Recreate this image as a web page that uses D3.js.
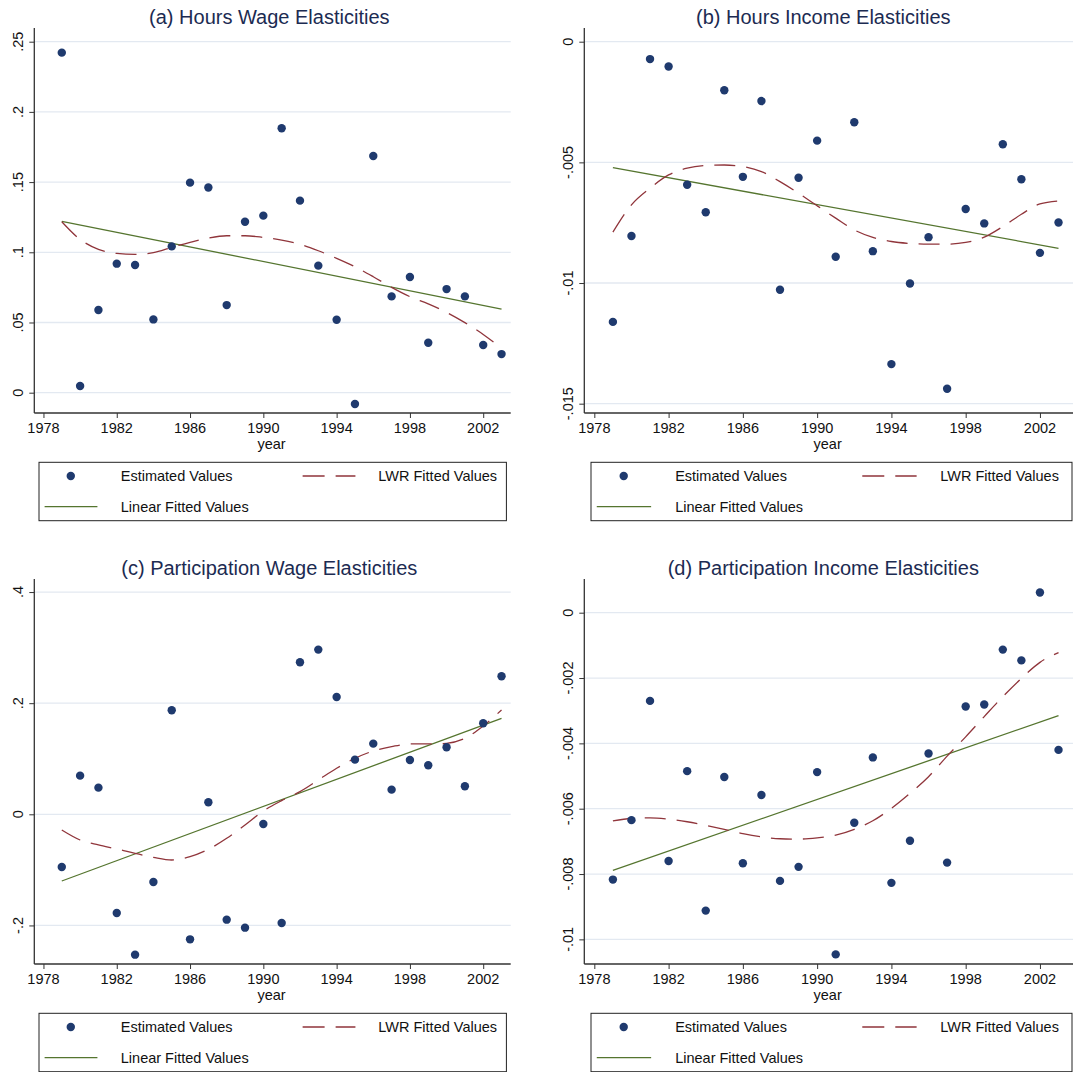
<!DOCTYPE html>
<html>
<head>
<meta charset="utf-8">
<script src="https://cdn.jsdelivr.net/npm/d3@7"></script>
<style>
	html, body { margin: 0; padding: 0; background: #fff; }
	svg { display: block; font-family: Arial, "Liberation Sans", Helvetica, sans-serif; }
</style>
</head>
<body>
<svg id="chart" width="1073" height="1072"></svg>
<script>
var years = [1979, 1980, 1981, 1982, 1983, 1984, 1985, 1986, 1987, 1988, 1989, 1990, 1991,
	1992, 1993, 1994, 1995, 1996, 1997, 1998, 1999, 2000, 2001, 2002, 2003];
var linYears = [1979, 2003];
var xTicks = [1978, 1982, 1986, 1990, 1994, 1998, 2002];

// (a) hours wage
var hwEst = [0.2422, 0.0048, 0.0589, 0.0919, 0.0909, 0.0522, 0.1042, 0.1496, 0.1462, 0.0624, 0.1218, 0.1261, 0.1883,
	0.1368, 0.0905, 0.0520, -0.0081, 0.1686, 0.0686, 0.0824, 0.0356, 0.0738, 0.0686, 0.0340, 0.0275];
var hwLwr = [0.1218, 0.1092, 0.1021, 0.0992, 0.0985, 0.0997, 0.1035, 0.1071, 0.1102, 0.1118, 0.1118, 0.1106, 0.1087,
	0.1057, 0.1011, 0.0957, 0.0897, 0.0826, 0.0750, 0.0684, 0.0632, 0.0572, 0.0499, 0.0415, 0.0316];
var hwLin = [0.1220, 0.0596];
var hwTicks = [0, 0.05, 0.1, 0.15, 0.2, 0.25];
var hwLabels = ["0", ".05", ".1", ".15", ".2", ".25"];

// (b) hours income
var hiEst = [-0.01161, -0.00805, -0.00072, -0.00103, -0.00593, -0.00707, -0.00201, -0.00560, -0.00246, -0.01028, -0.00564, -0.00410, -0.00891,
	-0.00334, -0.00868, -0.01336, -0.01002, -0.00810, -0.01438, -0.00693, -0.00753, -0.00425, -0.00570, -0.00875, -0.00749];
var hiLwr = [-0.00789, -0.00676, -0.00607, -0.00552, -0.00524, -0.00513, -0.00511, -0.00517, -0.00538, -0.00580, -0.00628, -0.00680, -0.00731,
	-0.00780, -0.00811, -0.00828, -0.00836, -0.00839, -0.00839, -0.00832, -0.00810, -0.00766, -0.00715, -0.00672, -0.00660];
var hiLin = [-0.00522, -0.00856];
var hiTicks = [0, -0.005, -0.01, -0.015];
var hiLabels = ["0", "-.005", "-.01", "-.015"];

// (c) participation wage
var pwEst = [-0.0948, 0.0696, 0.0480, -0.1776, -0.2526, -0.1218, 0.1872, -0.2250, 0.0216, -0.1896, -0.2040, -0.0174, -0.1956,
	0.2736, 0.2964, 0.2112, 0.0984, 0.1272, 0.0444, 0.0978, 0.0882, 0.1206, 0.0504, 0.1638, 0.2484];
var pwLwr = [-0.0282, -0.0462, -0.0552, -0.0624, -0.0702, -0.0774, -0.0822, -0.0762, -0.0630, -0.0432, -0.0192, 0.0060, 0.0246,
	0.0408, 0.0618, 0.0828, 0.1008, 0.1140, 0.1218, 0.1266, 0.1266, 0.1278, 0.1368, 0.1590, 0.1878];
var pwLin = [-0.1200, 0.1728];
var pwTicks = [-0.2, 0, 0.2, 0.4];
var pwLabels = ["-.2", "0", ".2", ".4"];

// (d) participation income
var piEst = [-0.00817, -0.00635, -0.00270, -0.00760, -0.00485, -0.00912, -0.00503, -0.00767, -0.00558, -0.00821, -0.00778, -0.00488, -0.01046,
	-0.00643, -0.00443, -0.00827, -0.00698, -0.00431, -0.00765, -0.00287, -0.00281, -0.00113, -0.00146, 0.00062, -0.00420];
var piLwr = [-0.00637, -0.00630, -0.00628, -0.00632, -0.00640, -0.00651, -0.00663, -0.00676, -0.00686, -0.00692, -0.00693, -0.00689, -0.00681,
	-0.00663, -0.00637, -0.00599, -0.00553, -0.00502, -0.00439, -0.00380, -0.00318, -0.00257, -0.00201, -0.00152, -0.00122];
var piLin = [-0.00789, -0.00315];
var piTicks = [0, -0.002, -0.004, -0.006, -0.008, -0.01];
var piLabels = ["0", "-.002", "-.004", "-.006", "-.008", "-.01"];

var titles = ["(a) Hours Wage Elasticities", "(b) Hours Income Elasticities",
	"(c) Participation Wage Elasticities", "(d) Participation Income Elasticities"];
var legendLabels = ["Estimated Values", "LWR Fitted Values", "Linear Fitted Values"];

var colors = {
	dot: "#1f3a6e",
	lwr: "#90353b",
	lin: "#55752f",
	grid: "#e3e9f1",
	axis: "#333",
	title: "#1c2b52",
	text: "#111"
};

var panels = [
	{ est: hwEst, lwr: hwLwr, lin: hwLin, ticks: hwTicks, labels: hwLabels, ox: 0, oy: 0,
		left: 34.3, right: 510.7, xdom: [1977.5, 2003.5], ydom: [-0.01446, 0.2569], tx: 269.3 },
	{ est: hiEst, lwr: hiLwr, lin: hiLin, ticks: hiTicks, labels: hiLabels, ox: 540, oy: 0,
		left: 44.3, right: 533, xdom: [1977.46, 2003.78], ydom: [-0.015386, 0.000402], tx: 283.3 },
	{ est: pwEst, lwr: pwLwr, lin: pwLin, ticks: pwTicks, labels: pwLabels, ox: 0, oy: 551,
		left: 34.3, right: 510.7, xdom: [1977.5, 2003.5], ydom: [-0.2694, 0.4163], tx: 269.3 },
	{ est: piEst, lwr: piLwr, lin: piLin, ticks: piTicks, labels: piLabels, ox: 540, oy: 551,
		left: 44.3, right: 533, xdom: [1977.46, 2003.78], ydom: [-0.010754, 0.000909], tx: 283.3 }
];

var plotTop = 32;
var plotBottom = 413;

var svg = d3.select("#chart");

function drawPanel(p, i) {
	var g = svg.append("g")
		.attr("transform", "translate(" + p.ox + "," + p.oy + ")");

	var x = d3.scaleLinear().domain(p.xdom).range([p.left, p.right]);
	var y = d3.scaleLinear().domain(p.ydom).range([plotBottom, plotTop]);

	g.append("clipPath")
		.attr("id", "clip" + i)
		.append("rect")
		.attr("x", p.left)
		.attr("y", plotTop)
		.attr("width", p.right - p.left)
		.attr("height", plotBottom - plotTop);

	// Title
	g.append("text")
		.attr("x", p.tx)
		.attr("y", 24)
		.attr("text-anchor", "middle")
		.style("font-size", "20px")
		.style("fill", colors.title)
		.text(titles[i]);

	// Gridlines
	g.append("g")
		.selectAll("line")
		.data(p.ticks)
		.enter()
		.append("line")
		.attr("x1", p.left)
		.attr("x2", p.right)
		.attr("y1", function(d) { return y(d); })
		.attr("y2", function(d) { return y(d); })
		.style("stroke", colors.grid)
		.style("stroke-width", 1.3);

	// Y axis
	var yAxis = g.append("g")
		.attr("transform", "translate(" + p.left + ",0)")
		.call(d3.axisLeft(y).tickValues(p.ticks).tickSize(5).tickFormat(""));
	yAxis.select(".domain").remove();
	yAxis.selectAll(".tick line").style("stroke", colors.axis);
	g.append("line")
		.attr("x1", p.left).attr("x2", p.left)
		.attr("y1", plotTop - 4).attr("y2", plotBottom)
		.style("stroke", colors.axis)
		.style("stroke-width", 1.3);

	g.append("g")
		.selectAll("text")
		.data(p.ticks)
		.enter()
		.append("text")
		.attr("transform", function(d) {
			return "translate(" + (p.left - 11) + "," + y(d) + ") rotate(-90)";
		})
		.attr("text-anchor", "middle")
		.style("font-size", "14.5px")
		.style("fill", colors.text)
		.text(function(d, j) { return p.labels[j]; });

	// X axis
	var xAxis = g.append("g")
		.attr("transform", "translate(0," + plotBottom + ")")
		.call(d3.axisBottom(x).tickValues(xTicks).tickSize(5).tickFormat(""));
	xAxis.select(".domain").remove();
	xAxis.selectAll(".tick line").style("stroke", colors.axis);
	g.append("line")
		.attr("x1", p.left).attr("x2", p.right)
		.attr("y1", plotBottom).attr("y2", plotBottom)
		.style("stroke", colors.axis)
		.style("stroke-width", 1.3);

	g.append("g")
		.selectAll("text")
		.data(xTicks)
		.enter()
		.append("text")
		.attr("x", function(d) { return x(d); })
		.attr("y", 433)
		.attr("text-anchor", "middle")
		.style("font-size", "14.5px")
		.style("fill", colors.text)
		.text(function(d) { return d; });

	g.append("text")
		.attr("x", (p.left + p.right) / 2 - 1)
		.attr("y", 449)
		.attr("text-anchor", "middle")
		.style("font-size", "14.5px")
		.style("fill", colors.text)
		.text("year");

	var marks = g.append("g").attr("clip-path", "url(#clip" + i + ")");

	// Linear fit
	marks.append("path")
		.datum(linYears.map(function(yr, j) { return [yr, p.lin[j]]; }))
		.attr("d", d3.line().x(function(d) { return x(d[0]); }).y(function(d) { return y(d[1]); }))
		.style("fill", "none")
		.style("stroke", colors.lin)
		.style("stroke-width", 1.3);

	// LWR fit
	marks.append("path")
		.datum(years.map(function(yr, j) { return [yr, p.lwr[j]]; }))
		.attr("d", d3.line().curve(d3.curveMonotoneX).x(function(d) { return x(d[0]); }).y(function(d) { return y(d[1]); }))
		.style("fill", "none")
		.style("stroke", colors.lwr)
		.style("stroke-width", 1.3)
		.style("stroke-dasharray", "21,11");

	// Estimated values
	marks.selectAll("circle")
		.data(years.map(function(yr, j) { return [yr, p.est[j]]; }))
		.enter()
		.append("circle")
		.attr("cx", function(d) { return x(d[0]); })
		.attr("cy", function(d) { return y(d[1]); })
		.attr("r", 4.2)
		.style("fill", colors.dot);

	// Legend
	var bx = p.left + 4.7;
	var bw = (p.right - 4.3) - bx;
	if (p.ox > 0) {
		bx = p.left + 6.7;
		bw = 532 - bx;
	}
	var leg = g.append("g");
	leg.append("rect")
		.attr("x", bx)
		.attr("y", 462.3)
		.attr("width", bw)
		.attr("height", 58.4)
		.style("fill", "#fff")
		.style("stroke", "#222")
		.style("stroke-width", 1);

	leg.append("circle")
		.attr("cx", bx + bw * 0.068)
		.attr("cy", 476)
		.attr("r", 4.2)
		.style("fill", colors.dot);
	leg.append("line")
		.attr("x1", bx + bw * 0.564).attr("x2", bx + bw * 0.677)
		.attr("y1", 476).attr("y2", 476)
		.style("stroke", colors.lwr)
		.style("stroke-width", 1.3)
		.style("stroke-dasharray", "22,11");
	leg.append("line")
		.attr("x1", bx + bw * 0.012).attr("x2", bx + bw * 0.125)
		.attr("y1", 506.7).attr("y2", 506.7)
		.style("stroke", colors.lin)
		.style("stroke-width", 1.3);

	var textPos = [[0.175, 481.2], [0.726, 481.2], [0.175, 511.9]];
	leg.selectAll("text")
		.data(legendLabels)
		.enter()
		.append("text")
		.attr("x", function(d, j) { return bx + bw * textPos[j][0]; })
		.attr("y", function(d, j) { return textPos[j][1]; })
		.style("font-size", "14.5px")
		.style("fill", colors.text)
		.text(function(d) { return d; });
}

panels.forEach(drawPanel);
</script>
</body>
</html>
